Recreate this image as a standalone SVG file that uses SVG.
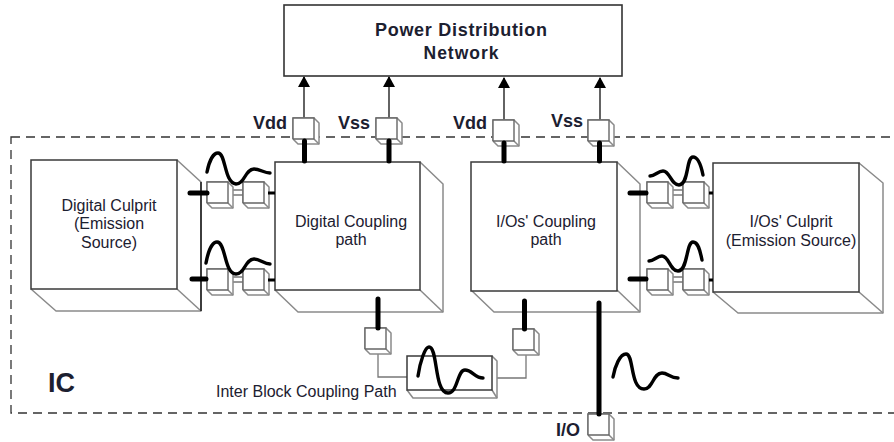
<svg xmlns="http://www.w3.org/2000/svg" xmlns:xlink="http://www.w3.org/1999/xlink" width="894" height="442" viewBox="0 0 894 442">
<style>
text{font-family:"Liberation Sans",Arial,sans-serif;fill:#1c2030}
.c{text-anchor:middle}
.t{font-size:16px}
.b{font-weight:bold;font-size:18px}
.front{fill:#fff;stroke:#3a3a3a;stroke-width:1.5}
.cf{fill:#fff;stroke:#666;stroke-width:1.4}
.side{fill:#fff;stroke:#8a8a8a;stroke-width:1.5;stroke-linejoin:round}
.thin{fill:none;stroke:#777;stroke-width:1.3}
.thick{fill:none;stroke:#000;stroke-width:5;stroke-linecap:round}
.mid{fill:none;stroke:#000;stroke-width:3}
.wave{fill:none;stroke:#000;stroke-width:3.4;stroke-linecap:round;stroke-linejoin:round}
.arr{fill:none;stroke:#222;stroke-width:1.4;marker-end:url(#ah)}
</style>
<defs>
<marker id="ah" markerUnits="userSpaceOnUse" markerWidth="12" markerHeight="12" refX="10" refY="6" orient="auto"><path d="M0,0L11,6L0,12Z" fill="#000"/></marker>
<g id="cube"><path class="side" d="M0,0H21L26,5V26H5L0,21Z"/><path class="side" d="M21,21L26,26"/><path d="M0,21V0H21V21H0" class="cf"/></g>
</defs>

<rect id="ic-boundary" x="11" y="137" width="890" height="276" fill="none" stroke="#333" stroke-width="1.3" stroke-dasharray="9 6"/>

<g id="connectors">
<path class="arr" d="M304,118V77"/>
<path class="arr" d="M389,118V77"/>
<path class="arr" d="M504,120V78"/>
<path class="arr" d="M600,120V78"/>
<path class="thin" d="M232,190H243M232,195H243M668,190H683M668,195H683M232,277H243M232,282H243M668,277H683M668,282H683"/>
<path class="thin" d="M378,353V377H407M526,355V378H497"/>
</g>

<g id="power-distribution-network">
<rect x="284" y="5" width="338" height="71" fill="#fff" stroke="#333" stroke-width="1.6"/>
<text class="c b" x="461" y="36" textLength="172">Power Distribution</text>
<text class="c b" x="461" y="59" textLength="75" style="font-size:17.5px">Network</text>
</g>

<g id="digital-culprit">
<path class="side" d="M177,160L201,182V311H56L31,289"/>
<path class="side" d="M177,289L201,311"/>
<rect class="front" x="31" y="160" width="146" height="129"/>
<path d="M201,182V311" stroke="#222" stroke-width="1.6"/>
<text class="c t" x="109" y="211">Digital Culprit</text>
<text class="c t" x="109" y="229">(Emission</text>
<text class="c t" x="109" y="248">Source)</text>
</g>

<g id="digital-coupling-path">
<path class="side" d="M420,162L443,184V312H298L275,290"/>
<path class="side" d="M420,290L443,312"/>
<rect class="front" x="275" y="162" width="145" height="128"/>
<text class="c t" x="351" y="227">Digital Coupling</text>
<text class="c t" x="351" y="245">path</text>
</g>

<g id="io-coupling-path">
<path class="side" d="M617,162L640,184V312H494L471,290"/>
<path class="side" d="M617,290L640,312"/>
<rect class="front" x="471" y="162" width="146" height="129"/>
<text class="c t" x="546" y="227">I/Os' Coupling</text>
<text class="c t" x="546" y="245">path</text>
</g>

<g id="io-culprit">
<path class="side" d="M859,163L883,183V313H738L713,292"/>
<path class="side" d="M859,292L883,313"/>
<rect class="front" x="713" y="163" width="146" height="129"/>
<text class="c t" x="791" y="227">I/Os' Culprit</text>
<text class="c t" x="791" y="246">(Emission Source)</text>
</g>

<g id="inter-block-coupling-path">
<path class="side" d="M492,356L497,361V398H413L407,390"/>
<path class="side" d="M492,390L497,398"/>
<rect class="front" x="407" y="356" width="85" height="34"/>
<text class="t" x="216" y="397">Inter Block Coupling Path</text>
</g>

<g id="vdd-1"><use xlink:href="#cube" href="#cube" x="293" y="118"/><text class="b" x="253" y="129">Vdd</text></g>
<g id="vss-1"><use xlink:href="#cube" href="#cube" x="376" y="118"/><text class="b" x="338" y="129">Vss</text></g>
<g id="vdd-2"><use xlink:href="#cube" href="#cube" x="493" y="120"/><text class="b" x="453" y="129">Vdd</text></g>
<g id="vss-2"><use xlink:href="#cube" href="#cube" x="588" y="120"/><text class="b" x="551" y="127">Vss</text></g>

<g id="port-left-top-a"><use xlink:href="#cube" href="#cube" x="207" y="182"/></g>
<g id="port-left-top-b"><use xlink:href="#cube" href="#cube" x="243" y="182"/></g>
<g id="port-left-bottom-a"><use xlink:href="#cube" href="#cube" x="207" y="269"/></g>
<g id="port-left-bottom-b"><use xlink:href="#cube" href="#cube" x="243" y="269"/></g>
<g id="port-right-top-a"><use xlink:href="#cube" href="#cube" x="647" y="182"/></g>
<g id="port-right-top-b"><use xlink:href="#cube" href="#cube" x="683" y="182"/></g>
<g id="port-right-bottom-a"><use xlink:href="#cube" href="#cube" x="647" y="269"/></g>
<g id="port-right-bottom-b"><use xlink:href="#cube" href="#cube" x="683" y="269"/></g>
<g id="port-inter-a"><use xlink:href="#cube" href="#cube" x="365" y="328"/></g>
<g id="port-inter-b"><use xlink:href="#cube" href="#cube" x="513" y="329"/></g>
<g id="port-io"><use xlink:href="#cube" href="#cube" x="588" y="414"/><text class="b" x="556" y="436">I/O</text></g>

<g id="thick-connectors">
<path class="thick" d="M304.500,141V161M389,141V161M504,143V161M599.500,143V161M378,299V328M524.500,301V329M599,303V414M190,193H207M630,193H646M192,279H206M630,279H646"/>
<path class="mid" d="M268,193H275M268,280H275M709,193H713M709,280H713"/>
</g>

<g id="waves">
<path class="wave" d="M207,172C209,162 213,153 218,153C226,153 224,183 236,184C245,184 245,169 254,169C260,169 264,173 270,173"/>
<path class="wave" d="M206,263C208,252 212,242 217,242C226,242 224,274 236,274C245,274 245,259 254,259C260,259 264,264 270,264"/>
<path class="wave" d="M650,176C655,176 658,171 663,171C670,171 671,185 679,185C689,185 686,157 693,157C698,157 701,165 703,175"/>
<path class="wave" d="M649,261C654,261 657,256 662,256C669,256 670,271 678,271C688,271 686,242 693,242C698,242 700,250 702,260"/>
<path class="wave" d="M418,376C420,362 425,347 429,347C438,347 434,393 448,393C458,393 457,370 465,370C472,370 475,378 483,378"/>
<path class="wave" d="M613,377C615,366 620,354 626,354C634,354 630,389 644,389C653,389 653,373 662,373C668,373 670,378 678,378"/>
</g>

<text id="ic-label" x="48" y="392" font-size="27" font-weight="bold">IC</text>
</svg>
